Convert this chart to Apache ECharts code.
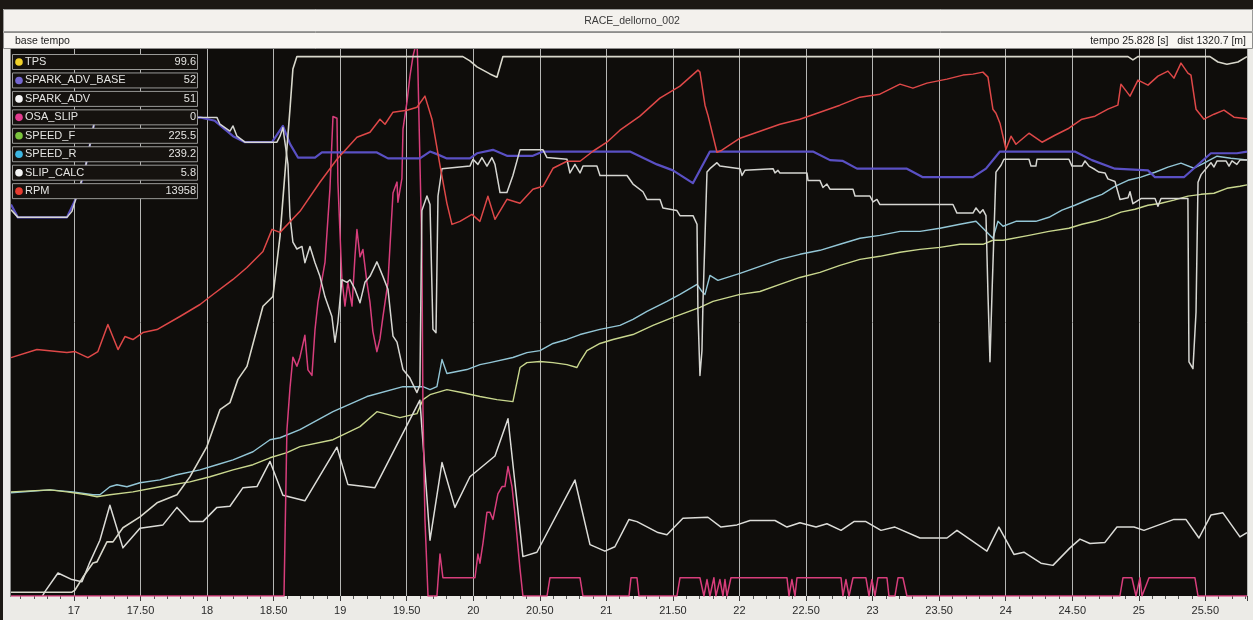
<!DOCTYPE html>
<html>
<head>
<meta charset="utf-8">
<title>RACE_dellorno_002</title>
<script src="https://cdn.jsdelivr.net/npm/echarts@6/dist/echarts.min.js"></script>
<style>
  html, body { margin: 0; padding: 0; background: #ecebe7; }
  #chart { width: 1253px; height: 620px; }
</style>
</head>
<body>
<div id="chart"></div>
<script>
// ---- logged channels: [time s, value] ----
const tps = [[16.527,0.7],[16.985,0.7],[17.008,1.1],[17.068,3.5],[17.143,6.1],[17.173,6.3],[17.248,10.0],[17.293,10.0],[17.368,12.6],[17.496,14.6],[17.624,17.2],[17.774,18.7],[17.871,22.0],[17.999,27.6],[18.097,34.4],[18.172,35.7],[18.232,40.0],[18.300,42.4],[18.420,53.5],[18.495,55.3],[18.548,66.4],[18.623,89.9],[18.645,97.3],[18.675,99.6],[19.922,99.6],[19.975,98.8],[20.028,97.7],[20.125,96.4],[20.178,95.8],[20.223,99.6],[24.919,99.6],[24.956,99.0],[24.993,99.6],[25.535,99.6],[25.595,98.6],[25.662,98.2],[25.745,98.6],[25.813,99.6]];

const sparkAdvBase = [[16.527,45.8],[16.579,44.3],[16.947,44.3],[17.030,47.0],[17.083,49.9],[17.158,55.8],[17.947,56.0],[18.059,55.6],[18.195,53.8],[18.285,53.1],[18.488,53.1],[18.570,55.0],[18.623,52.9],[18.683,51.3],[18.811,51.3],[18.863,51.9],[19.276,51.9],[19.359,51.2],[19.599,51.2],[19.675,52.0],[19.727,51.7],[19.802,51.2],[19.975,51.2],[20.028,51.8],[20.148,52.2],[20.253,51.5],[20.448,51.5],[20.524,52.0],[21.177,52.0],[21.380,50.5],[21.500,49.8],[21.650,48.3],[21.778,52.0],[22.552,52.0],[22.680,51.0],[22.777,50.9],[22.883,50.0],[23.258,50.0],[23.378,49.0],[23.754,49.0],[23.852,50.0],[23.957,52.0],[24.520,52.0],[24.648,51.0],[24.821,50.0],[25.069,49.8],[25.122,49.0],[25.339,49.0],[25.542,51.8],[25.737,51.8],[25.813,52]];

const sparkAdv = [[16.527,45.2],[16.579,44.3],[16.947,44.3],[16.985,45.0],[17.083,49.9],[17.158,55.8],[17.947,56.0],[18.074,56.0],[18.097,55.2],[18.172,54.4],[18.195,55.0],[18.225,53.8],[18.285,53.1],[18.525,53.1],[18.548,53.8],[18.570,54.8],[18.585,53.1],[18.608,50.5],[18.623,44.4],[18.645,41.4],[18.675,40.6],[18.713,40.9],[18.735,39.0],[18.773,40.9],[18.811,39.0],[18.848,37.4],[18.886,35.0],[18.938,32.7],[18.961,29.7],[18.983,32.0],[19.013,37.0],[19.051,36.7],[19.074,37.0],[19.111,35.9],[19.149,34.3],[19.186,36.7],[19.224,37.4],[19.276,39.1],[19.321,37.4],[19.359,35.9],[19.397,30.4],[19.427,29.7],[19.472,26.5],[19.524,25.5],[19.577,23.8],[19.599,24.7],[19.614,45.1],[19.652,46.8],[19.675,45.8],[19.697,31.2],[19.720,30.8],[19.735,46.8],[19.765,50.0],[19.975,50.3],[19.998,51.1],[20.035,50.5],[20.065,51.3],[20.103,50.3],[20.140,51.3],[20.163,50.5],[20.201,47.2],[20.253,47.2],[20.298,49.2],[20.351,52.2],[20.524,52.2],[20.554,51.3],[20.704,51.1],[20.726,49.5],[20.764,50.5],[20.802,49.5],[20.824,50.3],[20.929,50.3],[20.952,49.2],[21.155,49.2],[21.200,48.2],[21.275,47.3],[21.305,46.4],[21.403,46.4],[21.425,45.4],[21.530,45.1],[21.553,44.5],[21.651,44.5],[21.681,43.5],[21.688,33.2],[21.703,25.8],[21.718,28.7],[21.726,34.5],[21.756,49.6],[21.778,50.0],[21.831,50.7],[21.853,50.3],[22.004,50.0],[22.019,49.2],[22.041,49.8],[22.252,50.0],[22.267,49.5],[22.289,49.8],[22.304,49.5],[22.507,49.5],[22.515,48.6],[22.605,48.6],[22.627,47.8],[22.657,48.2],[22.680,47.6],[22.853,47.6],[22.868,46.8],[22.980,46.8],[23.003,46.1],[23.033,46.4],[23.055,45.8],[23.604,45.8],[23.634,44.8],[23.754,44.8],[23.777,45.4],[23.807,44.8],[23.829,45.2],[23.852,44.5],[23.867,35.3],[23.882,27.4],[23.897,35.3],[23.927,49.6],[23.965,50.4],[23.987,51.1],[24.175,51.1],[24.190,50.3],[24.227,50.3],[24.235,51.1],[24.475,51.1],[24.498,50.3],[24.573,50.3],[24.596,50.9],[24.626,50.3],[24.671,49.9],[24.701,49.6],[24.746,49.5],[24.768,48.8],[24.821,48.5],[24.859,46.4],[24.919,46.6],[24.934,47.3],[24.956,45.9],[25.016,46.5],[25.122,46.5],[25.144,45.6],[25.167,46.5],[25.369,46.5],[25.377,27.4],[25.407,26.6],[25.430,33.2],[25.445,48.4],[25.468,49.3],[25.542,50.7],[25.565,50.2],[25.588,50.9],[25.655,50.9],[25.678,50.3],[25.700,50.9],[25.737,50.5],[25.760,51.0],[25.813,51]];

const osaSlip = [[16.527,0],[18.578,0],[18.600,9.1],[18.623,11.4],[18.645,13.1],[18.675,12.6],[18.698,13.1],[18.735,14.3],[18.758,12.4],[18.788,12.1],[18.811,14.6],[18.833,16.1],[18.886,18.3],[18.923,22.3],[18.946,26.3],[18.976,26.2],[18.983,22.7],[19.013,17.4],[19.036,15.9],[19.058,17.2],[19.089,15.9],[19.111,18.6],[19.126,20.1],[19.149,18.6],[19.171,19.0],[19.201,17.2],[19.224,16.1],[19.246,14.5],[19.276,13.4],[19.299,14.1],[19.321,15.3],[19.359,17.2],[19.397,22.1],[19.427,22.7],[19.434,21.6],[19.464,22.9],[19.472,25.6],[19.502,27.1],[19.524,28.5],[19.547,29.6],[19.577,30.5],[19.584,28.9],[19.614,19.0],[19.622,10.2],[19.637,4.2],[19.660,0],[19.727,0],[19.750,2.3],[19.772,1],[20.013,1],[20.035,2.3],[20.050,1.8],[20.073,2.9],[20.103,4.6],[20.125,4.6],[20.148,4.2],[20.185,5.6],[20.216,6.0],[20.238,6.0],[20.261,7.1],[20.291,6.0],[20.313,4.5],[20.351,1.5],[20.373,0],[20.554,0],[20.576,1],[20.802,1],[20.824,0],[21.170,0],[21.185,1],[21.230,1],[21.245,0],[21.530,0],[21.553,1],[21.703,1],[21.733,0],[21.756,0.9],[21.778,0],[21.808,1],[21.823,0],[21.853,0.9],[21.876,0],[21.891,0.9],[21.906,0],[21.936,1],[22.357,1],[22.372,0],[22.394,0.9],[22.417,0],[22.432,1],[22.763,1],[22.777,0],[22.800,0.9],[22.823,0],[22.853,1],[22.950,1],[22.973,0],[22.995,0.9],[23.018,0],[23.040,1],[23.108,1],[23.123,0],[23.168,0],[23.191,1],[23.228,1],[23.258,0],[24.858,0],[24.881,1],[24.948,1],[24.979,0],[25.009,1],[25.024,0],[25.077,1],[25.422,1],[25.445,0],[25.813,0]];

const speedF = [[16.527,57.1],[16.820,58.2],[16.947,57.1],[17.098,55.5],[17.173,54.4],[17.270,55.5],[17.443,57.1],[17.646,59.9],[17.871,62.6],[18.022,65.4],[18.195,69.2],[18.345,72.0],[18.473,75.8],[18.600,78.6],[18.698,81.9],[18.946,85.7],[19.149,92.9],[19.276,101.1],[19.449,97.8],[19.577,100.0],[19.622,107.7],[19.675,110.4],[19.802,113.2],[19.922,111.5],[20.050,109.4],[20.178,107.7],[20.298,106.6],[20.351,125.3],[20.403,128.0],[20.501,128.6],[20.599,128.0],[20.704,126.9],[20.779,125.3],[20.802,128.6],[20.854,134.6],[20.952,138.5],[21.050,140.7],[21.200,143.4],[21.350,148.4],[21.500,152.8],[21.703,158.3],[21.801,161.6],[22.004,165.4],[22.154,167.0],[22.304,170.9],[22.454,174.7],[22.605,177.5],[22.755,181.3],[22.905,184.6],[23.055,186.3],[23.206,188.5],[23.356,190.1],[23.506,191.2],[23.656,192.9],[23.829,192.9],[23.904,195.1],[23.980,195.1],[24.175,197.8],[24.325,200.0],[24.475,201.7],[24.573,203.9],[24.671,205.5],[24.768,207.7],[24.866,210.5],[24.971,212.1],[25.069,214.3],[25.167,215.4],[25.264,217.1],[25.369,219.3],[25.468,220.3],[25.565,220.9],[25.662,223.6],[25.760,224.7],[25.813,225.5]];

const speedR = [[16.527,56.6],[16.820,58.2],[16.992,57.1],[17.143,55.5],[17.195,55.5],[17.270,59.9],[17.323,61.0],[17.398,59.9],[17.496,62.1],[17.646,63.7],[17.774,66.5],[17.947,69.2],[18.074,72.0],[18.195,74.7],[18.345,79.1],[18.473,85.7],[18.548,86.8],[18.698,91.2],[18.946,101.1],[19.201,109.4],[19.472,114.8],[19.622,114.8],[19.675,113.2],[19.727,114.8],[19.765,129.7],[19.802,122.0],[19.952,124.2],[20.050,126.9],[20.125,128.0],[20.298,130.8],[20.403,133.5],[20.501,134.6],[20.599,138.5],[20.704,140.7],[20.802,143.4],[20.952,146.2],[21.102,148.4],[21.200,151.7],[21.305,156.1],[21.455,161.6],[21.553,165.4],[21.681,170.9],[21.718,167.0],[21.741,165.4],[21.778,175.8],[21.838,173.1],[22.004,176.9],[22.154,180.8],[22.304,184.6],[22.454,187.4],[22.605,189.6],[22.755,192.9],[22.905,196.2],[23.055,197.8],[23.206,200.0],[23.356,200.0],[23.506,201.7],[23.656,203.9],[23.777,205.5],[23.852,200.0],[23.904,196.2],[23.942,205.5],[23.980,202.8],[24.077,205.5],[24.227,205.5],[24.325,207.7],[24.423,211.6],[24.520,214.3],[24.626,217.6],[24.724,220.3],[24.821,224.7],[24.919,228.0],[25.016,229.7],[25.122,232.4],[25.219,235.2],[25.317,237.4],[25.415,234.6],[25.490,237.4],[25.588,241.2],[25.692,240.1],[25.813,239.2]];

const slipCalc = [[16.527,-1.3],[16.745,-0.4],[16.782,0.4],[16.880,2.1],[16.985,1.5],[17.060,1.3],[17.120,3.1],[17.195,5.1],[17.270,8.3],[17.368,4.4],[17.496,6.2],[17.669,6.5],[17.774,8.1],[17.871,6.8],[17.969,6.8],[18.074,8.1],[18.172,8.2],[18.270,9.9],[18.375,10.0],[18.473,12.3],[18.570,9.2],[18.735,8.7],[18.976,13.6],[19.058,10.2],[19.261,9.9],[19.599,17.9],[19.675,5.1],[19.765,12.2],[19.862,8.1],[19.975,10.9],[20.163,12.8],[20.261,16.2],[20.373,3.6],[20.478,4.0],[20.764,10.6],[20.877,4.7],[20.989,4.1],[21.064,4.5],[21.170,7.0],[21.230,6.8],[21.388,5.8],[21.455,5.6],[21.575,7.1],[21.763,7.2],[21.861,6.3],[21.981,6.5],[22.079,6.9],[22.267,6.9],[22.357,6.3],[22.454,6.7],[22.575,6.3],[22.657,6.6],[22.763,6.0],[22.860,6.8],[22.950,6.8],[23.063,6.0],[23.168,6.3],[23.356,5.3],[23.559,5.3],[23.634,6.0],[23.859,4.1],[23.949,6.3],[24.062,3.8],[24.137,4.0],[24.265,3.0],[24.355,2.8],[24.483,4.4],[24.558,5.2],[24.633,4.8],[24.746,4.9],[24.836,6.3],[24.964,6.3],[25.039,6.0],[25.264,7.0],[25.354,7.0],[25.452,5.3],[25.542,7.4],[25.632,7.6],[25.760,5.4],[25.813,5.8]];

const rpm = [[16.527,6973],[16.722,7208],[16.947,7120],[17.008,7149],[17.105,6973],[17.180,7149],[17.255,7940],[17.331,7208],[17.383,7589],[17.443,7501],[17.518,7706],[17.624,7794],[17.796,8175],[17.947,8526],[18.044,8819],[18.195,9259],[18.300,9610],[18.420,10079],[18.488,10724],[18.548,10636],[18.698,11251],[18.848,12101],[18.976,12775],[19.126,13419],[19.224,13566],[19.299,13947],[19.337,13800],[19.397,14152],[19.502,14211],[19.577,14298],[19.637,14621],[19.690,13947],[19.750,12599],[19.802,11486],[19.840,10870],[19.900,10958],[19.990,11163],[20.050,10958],[20.110,11691],[20.163,11017],[20.253,11603],[20.351,11486],[20.448,11896],[20.524,11984],[20.599,12511],[20.704,12716],[20.802,12716],[20.899,13009],[21.004,13273],[21.102,13625],[21.252,14035],[21.402,14562],[21.553,14914],[21.688,15383],[21.703,15324],[21.741,14357],[21.763,14064],[21.831,12980],[21.868,13039],[22.004,13390],[22.154,13595],[22.304,13800],[22.454,13947],[22.605,14152],[22.755,14357],[22.905,14591],[23.055,14679],[23.206,14972],[23.303,14855],[23.408,15002],[23.559,15119],[23.679,15236],[23.754,15265],[23.829,15324],[23.867,15177],[23.904,14240],[23.927,14123],[23.957,13830],[24.002,13068],[24.040,13449],[24.077,13214],[24.175,13537],[24.273,13273],[24.370,13478],[24.475,13683],[24.573,13947],[24.671,14035],[24.768,14240],[24.843,14357],[24.866,14972],[24.934,14621],[24.994,15090],[25.069,14943],[25.144,15207],[25.219,15353],[25.264,15148],[25.317,15588],[25.369,15295],[25.392,15236],[25.430,14240],[25.490,13947],[25.565,14093],[25.640,14211],[25.715,14005],[25.813,13958]];

// header texts
const sessionName = 'RACE_dellorno_002';
const baseLabel = 'base tempo';
const cursorLabel = 'tempo 25.828 [s]   dist 1320.7 [m]';

// full-scale range of each channel group (one hidden y axis per group)
const scaleRanges = [[0, 101], [0, 64], [0, 30], [0, 300], [0, 50], [0, 16000]];

// channel list in legend order: trace, axis group, legend dot colour, trace colour
const channels = [
  { name: 'TPS',            data: tps,          axis: 0, dot: '#f2d22a', color: '#d9d8cc', width: 1.6 },
  { name: 'SPARK_ADV_BASE', data: sparkAdvBase, axis: 1, dot: '#7466d0', color: '#5a50c4', width: 2.2 },
  { name: 'SPARK_ADV',      data: sparkAdv,     axis: 1, dot: '#f4f4f4', color: '#d6d6d2', width: 1.5 },
  { name: 'OSA_SLIP',       data: osaSlip,      axis: 2, dot: '#e23c8e', color: '#d83e7c', width: 1.5 },
  { name: 'SPEED_F',        data: speedF,       axis: 3, dot: '#7cc43e', color: '#c9d78e', width: 1.4 },
  { name: 'SPEED_R',        data: speedR,       axis: 3, dot: '#3cb6e2', color: '#93c6d6', width: 1.4 },
  { name: 'SLIP_CALC',      data: slipCalc,     axis: 4, dot: '#f4f4f4', color: '#dcdcd8', width: 1.5 },
  { name: 'RPM',            data: rpm,          axis: 5, dot: '#e63c30', color: '#de4848', width: 1.5 }
];

// stacking order of the traces (bottom first)
const drawOrder = ['SPEED_R', 'SPEED_F', 'SLIP_CALC', 'OSA_SLIP', 'SPARK_ADV_BASE', 'SPARK_ADV', 'TPS', 'RPM'];

const FONT = "'Liberation Sans', Arial, sans-serif";
const chart = echarts.init(document.getElementById('chart'), null, { renderer: 'canvas' });

const yAxes = scaleRanges.map(r => ({
  type: 'value', min: r[0], max: r[1], show: false,
  splitLine: { show: false }, axisLine: { show: false }, axisTick: { show: false }, axisLabel: { show: false }
}));

const series = drawOrder.map((nm, k) => {
  const ch = channels.find(c => c.name === nm);
  return {
    name: ch.name, type: 'line', yAxisIndex: ch.axis, data: ch.data,
    showSymbol: false, symbol: 'none', clip: true, z: 2 + k * 0.01,
    lineStyle: { color: ch.color, width: ch.width, join: 'round' },
    emphasis: { disabled: true }
  };
});

// value box panel: one bordered row per channel with the reading at the cursor
const panel = [];
channels.forEach((ch, i) => {
  const top = 54 + i * 18.45;
  const last = ch.data[ch.data.length - 1][1];
  panel.push({ type: 'rect', shape: { x: 12.5, y: top + 0.5, width: 185, height: 15 },
    style: { fill: '#15120f', stroke: '#9a9a98', lineWidth: 1 }, z: 100 });
  panel.push({ type: 'circle', shape: { cx: 19, cy: top + 8, r: 3.8 },
    style: { fill: ch.dot }, z: 101 });
  panel.push({ type: 'text', x: 25, y: top + 8,
    style: { text: ch.name, fill: '#e4e4e2', font: '11px ' + FONT, textVerticalAlign: 'middle', verticalAlign: 'middle' }, z: 101 });
  panel.push({ type: 'text', x: 196, y: top + 8,
    style: { text: String(last), fill: '#e4e4e2', font: '11px ' + FONT, align: 'right', textAlign: 'right', verticalAlign: 'middle', textVerticalAlign: 'middle' }, z: 101 });
});

const frame = [
  // dark surround
  { type: 'rect', shape: { x: 0, y: 0, width: 1253, height: 9 }, style: { fill: '#1c1814' }, z: 90 },
  { type: 'rect', shape: { x: 0, y: 0, width: 3, height: 620 }, style: { fill: '#1c1814' }, z: 90 },
  // window side strips
  { type: 'rect', shape: { x: 3, y: 49, width: 8, height: 571 }, style: { fill: '#ecebe7' }, z: 90 },
  { type: 'rect', shape: { x: 1248, y: 49, width: 5, height: 571 }, style: { fill: '#ecebe7' }, z: 90 },
  { type: 'line', shape: { x1: 10.5, y1: 49, x2: 10.5, y2: 597 }, style: { stroke: '#8c8c8c', lineWidth: 1 }, z: 91 },
  // title bar
  { type: 'rect', shape: { x: 3.5, y: 9.5, width: 1249, height: 22 }, style: { fill: '#f3f1ed', stroke: '#9c9c9a', lineWidth: 1 }, z: 90 },
  { type: 'text', x: 632, y: 21, style: { text: sessionName, fill: '#3a3a3a', font: '10.5px ' + FONT, align: 'center', textAlign: 'center', verticalAlign: 'middle', textVerticalAlign: 'middle' }, z: 92 },
  // info bar
  { type: 'rect', shape: { x: 3.5, y: 32.5, width: 1249, height: 16 }, style: { fill: '#f8f6f2', stroke: '#8e8e8c', lineWidth: 1 }, z: 90 },
  { type: 'text', x: 15, y: 41, style: { text: baseLabel, fill: '#222', font: '10.5px ' + FONT, verticalAlign: 'middle', textVerticalAlign: 'middle' }, z: 92 },
  { type: 'text', x: 1246, y: 41, style: { text: cursorLabel, fill: '#222', font: '10.5px ' + FONT, align: 'right', textAlign: 'right', verticalAlign: 'middle', textVerticalAlign: 'middle' }, z: 92 }
];

chart.setOption({
  animation: false,
  backgroundColor: '#ecebe7',
  grid: {
    left: 7.4, right: 6, top: 49, bottom: 24,
    show: true, backgroundColor: '#0f0d0b', borderWidth: 0
  },
  xAxis: {
    type: 'value', min: 16.5, max: 25.813, interval: 0.5,
    axisLine: { show: false },
    axisTick: { show: true, length: 5, lineStyle: { color: '#3a3a3a', width: 1 } },
    minorTick: { show: true, splitNumber: 5, length: 3, lineStyle: { color: '#555', width: 1 } },
    splitLine: { show: true, lineStyle: { color: '#b6b6b4', width: 1 } },
    minorSplitLine: { show: false },
    axisLabel: {
      margin: 9, color: '#2a2a2a', fontSize: 11, fontFamily: FONT,
      showMinLabel: false, showMaxLabel: false,
      formatter: v => {
        const r = Math.round(v * 2) / 2;
        if (Math.abs(v - r) > 1e-6 || v < 16.9) return '';
        return Number.isInteger(r) ? String(r) : r.toFixed(2);
      }
    }
  },
  yAxis: yAxes,
  series: series,
  graphic: { elements: frame.concat(panel) }
});
</script>
</body>
</html>
